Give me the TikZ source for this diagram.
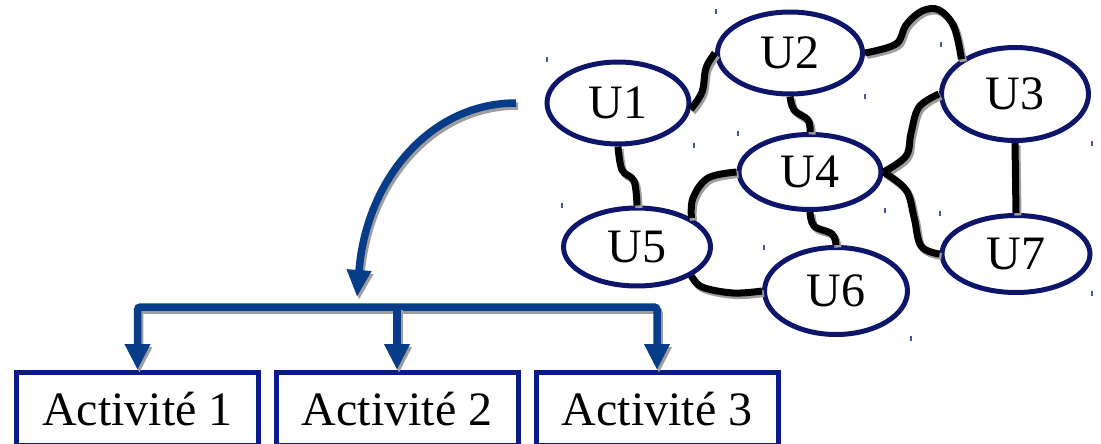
\documentclass[tikz,border=0pt]{standalone}
\usepackage{fontspec}
\setmainfont{Liberation Serif}
\usetikzlibrary{arrows.meta,shapes.geometric}

\definecolor{unitnavy}{RGB}{14,22,108}
\definecolor{boxnavy}{RGB}{10,26,135}
\definecolor{flowblue}{RGB}{6,60,136}
\definecolor{shadegray}{RGB}{158,158,158}
\definecolor{tickblue}{RGB}{70,85,165}

\begin{document}
\begin{tikzpicture}[
  x=1pt, y=-1pt,
  unit/.style={ellipse, draw=unitnavy, line width=5pt, inner sep=0pt,
    font=\fontsize{48}{50}\selectfont},
  activity/.style={rectangle, draw=boxnavy, line width=5pt, inner sep=0pt,
    minimum width=242pt, minimum height=73pt,
    font=\fontsize{48}{50}\selectfont},
  link/.style={draw=black, line width=7pt,
    preaction={draw=shadegray, line width=7pt,
      transform canvas={shift={(2pt,-2.5pt)}}}},
  flow/.style={draw=flowblue, line width=7.5pt,
    preaction={draw=shadegray, line width=7.5pt,
      transform canvas={shift={(2pt,-3pt)}}}},
  tick/.style={draw=tickblue, line width=1.3pt},
]
\useasboundingbox (0,0) rectangle (1101,444);

% units of the network
\node[unit, minimum width=142pt, minimum height=82pt] (U1) at (618,103) {U1};
\node[unit, minimum width=145pt, minimum height=82pt] (U2) at (790,53)  {U2};
\node[unit, minimum width=147pt, minimum height=93pt] (U3) at (1015,94) {U3};
\node[unit, minimum width=142pt, minimum height=75pt] (U4) at (810,172) {U4};
\node[unit, minimum width=147pt, minimum height=78pt] (U5) at (637,247) {U5};
\node[unit, minimum width=143pt, minimum height=87pt] (U6) at (836,291) {U6};
\node[unit, minimum width=148pt, minimum height=77pt] (U7) at (1016,254) {U7};

% links between units
\path[link] plot[smooth, tension=0.6] coordinates
  {(U1.-5) (702,92) (706,68) (U2.west)};
\path[link] plot[smooth, tension=0.6] coordinates
  {(U2.east) (896,44) (906,25) (922,11) (939,10) (954,27) (U3.147)};
\path[link] plot[smooth, tension=0.6] coordinates
  {(U2.south) (794,110) (808,120) (U4.north)};
\path[link] plot[smooth, tension=0.6] coordinates
  {(U3.west) (919,107) (911,133) (906,156) (U4.east)};
\path[link] plot[smooth, tension=0.6] coordinates
  {(U4.east) (906,190) (914,217) (921,246) (U7.west)};
\path[link] plot[smooth, tension=0.6] coordinates
  {(U4.west) (708,178) (693,198) (U5.28)};
\path[link] plot[smooth, tension=0.6] coordinates
  {(U4.south) (814,226) (832,234) (U6.north)};
\path[link] plot[smooth, tension=0.6] coordinates
  {(U1.south) (622,170) (634,181) (U5.north)};
\path[link] plot[smooth, tension=0.6] coordinates
  {(U5.-28) (702,287) (733,293) (U6.west)};
\path[link] (U3.south) -- (U7.north);

% activities
\node[activity] (A1) at (137.5,409) {Activité 1};
\node[activity] (A2) at (397,409)   {Activité 2};
\node[activity] (A3) at (657,409)   {Activité 3};

% flow from the network down to the activities
\coordinate (src) at (516,103);
\coordinate (hub) at (357,297);
\path[flow, -{Triangle[length=27pt,width=23pt]}]
  (src) .. controls (430,103) and (366,180) .. (hub);
\path[flow, rounded corners=3pt,
      {Triangle[length=26pt,width=24pt]}-{Triangle[length=26pt,width=24pt]}]
  (A1.north) -- (A1.north |- 0,307) -- (A3.north |- 0,307) -- (A3.north);
\path[flow, -{Triangle[length=26pt,width=24pt]}]
  (A2.north |- 0,307) -- (A2.north);

% small marks
\foreach \tx/\ty in {547/60, 716/12, 941/45, 865/97, 738/133, 694/145,
                    1092/143, 885/210, 940/213, 562/205, 764/247,
                    1092/293, 911/338}
  \draw[tick] (\tx,\ty-2.5) -- (\tx,\ty+2.5);
\end{tikzpicture}
\end{document}
